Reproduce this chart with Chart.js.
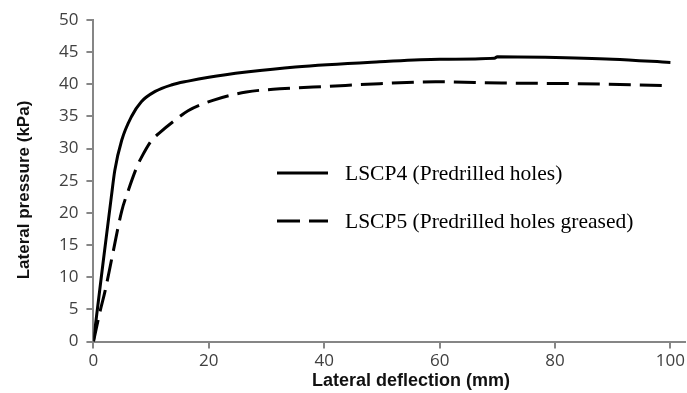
<!DOCTYPE html>
<html>
<head>
<meta charset="utf-8">
<script src="https://cdn.jsdelivr.net/npm/chart.js@4"></script>
<style>
  html, body { margin: 0; padding: 0; background: #fff; }
  #wrap { width: 687px; height: 393px; }
</style>
</head>
<body>
<div id="wrap"><canvas id="chart" width="687" height="393"></canvas></div>
<script>
// values
const lscp4X = [0, 1.7, 3.1, 3.7, 4.9, 6.6, 8.3, 10.7, 13.5, 16.4, 20, 26.5, 35, 49.6, 60, 69.5, 70, 78.3, 90, 100];
const lscp4Y = [0, 12.5, 22.5, 26.6, 31.3, 35.0, 37.3, 38.9, 39.9, 40.5, 41.1, 41.9, 42.7, 43.5, 43.9, 44.05, 44.3, 44.2, 43.9, 43.4];

const lscp5X = [0, 1.15, 2.0, 3.2, 4.9, 6.0, 7.5, 8.3, 10.1, 11.5, 14.4, 16.4, 20.7, 26.5, 32.3, 40.9, 49.6, 59.3, 70.8, 84.1, 100];
const lscp5Y = [0, 4.7, 7.8, 13, 20.3, 23.4, 27.1, 28.6, 31.3, 32.5, 34.6, 35.9, 37.5, 38.8, 39.3, 39.7, 40.1, 40.4, 40.2, 40.1, 39.8];

const seriesNames = ['LSCP4 (Predrilled holes)', 'LSCP5 (Predrilled holes greased)'];
const xTitle = 'Lateral deflection (mm)';
const yTitle = 'Lateral pressure (kPa)';

const toPoints = (xs, ys) => xs.map((x, i) => ({ x, y: ys[i] }));

// legend inside the plot + axis titles, drawn by hand
const extras = {
    id: 'extras',
    afterDraw(chart) {
        const ctx = chart.ctx;
        const rows = [
            { y: 173, dash: [] },
            { y: 221, dash: [23, 9] }
        ];
        ctx.save();
        ctx.font = '21.5px "Liberation Serif", "Times New Roman", serif';
        ctx.fillStyle = '#000';
        ctx.textBaseline = 'middle';
        rows.forEach((r, i) => {
            ctx.strokeStyle = '#000';
            ctx.lineWidth = 3;
            ctx.setLineDash(r.dash);
            ctx.beginPath();
            ctx.moveTo(277, r.y);
            ctx.lineTo(328, r.y);
            ctx.stroke();
            ctx.setLineDash([]);
            ctx.fillText(seriesNames[i], 345, r.y + 1);
        });

        ctx.textAlign = 'center';
        ctx.font = 'bold 18px "Liberation Sans", Arial, sans-serif';
        ctx.fillStyle = '#111';
        ctx.fillText(xTitle, 411, 381);

        ctx.translate(24, 190);
        ctx.rotate(-Math.PI / 2);
        ctx.font = 'bold 17px "Liberation Sans", Arial, sans-serif';
        ctx.fillText(yTitle, 0, 0);
        ctx.restore();
    }
};

const tickFont = { family: '"Open Sans", "Liberation Sans", sans-serif', size: 17 };
const axisGray = '#868686';

new Chart(document.getElementById('chart'), {
    type: 'line',
    data: {
        datasets: [{
            label: seriesNames[0],
            data: toPoints(lscp4X, lscp4Y),
            borderColor: '#000',
            borderWidth: 3,
            pointRadius: 0,
            cubicInterpolationMode: 'monotone'
        }, {
            label: seriesNames[1],
            data: toPoints(lscp5X, lscp5Y),
            borderColor: '#000',
            borderWidth: 3,
            borderDash: [22, 9],
            pointRadius: 0,
            cubicInterpolationMode: 'monotone'
        }]
    },
    options: {
        responsive: false,
        animation: false,
        layout: { padding: { top: 20, right: 0, left: 51, bottom: 20 } },
        plugins: {
            legend: { display: false },
            tooltip: { enabled: false }
        },
        scales: {
            x: {
                type: 'linear',
                min: 0,
                max: 102.5,
                border: { color: axisGray, width: 2 },
                grid: { drawOnChartArea: false, color: axisGray, tickLength: 7, lineWidth: 2 },
                ticks: { stepSize: 20, includeBounds: false, color: '#404040', font: tickFont, padding: 2, maxRotation: 0 }
            },
            y: {
                min: 0,
                max: 50,
                border: { color: axisGray, width: 2 },
                grid: { drawOnChartArea: false, color: axisGray, tickLength: 7, lineWidth: 2 },
                ticks: { stepSize: 5, color: '#404040', font: tickFont, padding: 8 }
            }
        }
    },
    plugins: [extras]
});
</script>
</body>
</html>
